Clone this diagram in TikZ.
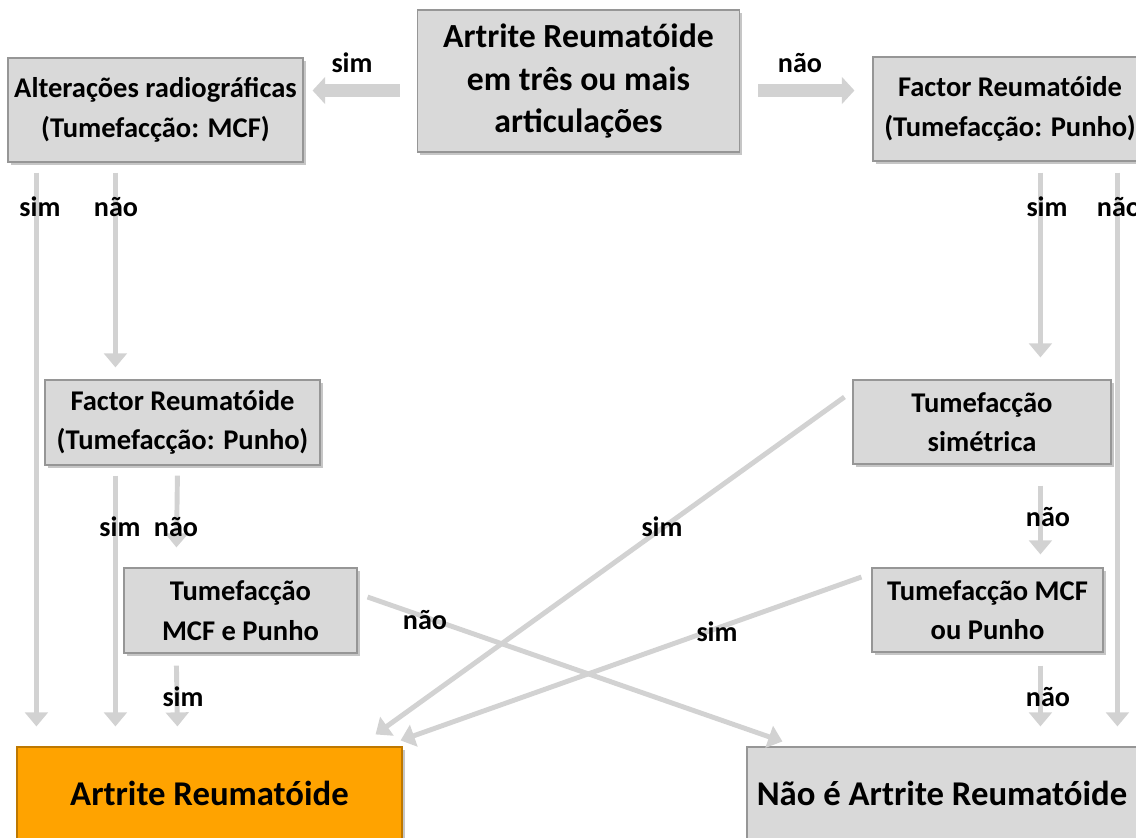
\documentclass[tikz,border=0pt]{standalone}
\usepackage{fontspec}
\setmainfont{Carlito}
\usetikzlibrary{arrows.meta,shadows}

\definecolor{boxgray}{RGB}{217,217,217}
\definecolor{boxedge}{RGB}{150,150,150}
\definecolor{arorange}{RGB}{255,163,0}
\definecolor{aredge}{RGB}{190,120,0}
\definecolor{flowgray}{RGB}{210,210,210}

\begin{document}
\begin{tikzpicture}[
    x=0.025cm, y=-0.025cm,
    box/.style={rectangle, draw=boxedge, line width=0.8pt, fill=boxgray, align=center,
        inner sep=0pt, font=\bfseries\fontsize{20.3}{28}\selectfont,
        drop shadow={shadow xshift=2pt, shadow yshift=-2pt, opacity=0.45}},
    bigbox/.style={box, font=\bfseries\fontsize{24}{30}\selectfont},
    endbox/.style={box, font=\bfseries\fontsize{24.7}{30}\selectfont},
    answer/.style={font=\bfseries\fontsize{20}{24}\selectfont, inner sep=0pt},
    flow/.style={draw=flowgray, line width=3.5pt, -{Triangle[width=16pt,length=10pt]}},
    wide/.style={draw=flowgray, line width=9.2pt, -{Triangle[width=19pt,length=9pt]}}
]
\useasboundingbox (0,0) rectangle (1136,837);

% Question boxes
\node[bigbox, minimum width=322*0.025cm, minimum height=142*0.025cm] (top) at (578.5,81)
    {Artrite Reumatóide\\em três ou mais\\articulações};
\node[box, minimum width=295*0.025cm, minimum height=104*0.025cm] (alter) at (155.5,110)
    {Alterações radiográficas\\(Tumefacção: MCF)};
\node[box, minimum width=274*0.025cm, minimum height=104*0.025cm] (frR) at (1010,109)
    {Factor Reumatóide\\(Tumefacção: Punho)};
\node[box, minimum width=275*0.025cm, minimum height=85*0.025cm] (frL) at (182.5,422.5)
    {Factor Reumatóide\\(Tumefacção: Punho)};
\node[box, minimum width=233*0.025cm, minimum height=85*0.025cm] (tmp) at (240.5,610.5)
    {Tumefacção\\MCF e Punho};
\node[box, minimum width=258*0.025cm, minimum height=84*0.025cm] (tsim) at (982,422)
    {Tumefacção\\simétrica};
\node[box, minimum width=231*0.025cm, minimum height=84*0.025cm] (tmou) at (987.5,610)
    {Tumefacção MCF\\ou Punho};

% Outcomes
\node[endbox, fill=arorange, draw=aredge, minimum width=385*0.025cm, minimum height=92*0.025cm] (ar) at (209.5,793)
    {Artrite Reumatóide};
\node[endbox, minimum width=390*0.025cm, minimum height=92*0.025cm] (nao) at (942,793)
    {Não é Artrite Reumatóide};

% First split
\draw[wide] ([shift={(-17,9.5)}]top.west) -- ([shift={(9,-19.5)}]alter.east);
\draw[wide] ([shift={(18,9.5)}]top.east) -- ([shift={(-18,-18.5)}]frR.west);

% Left branch
\draw[flow] ([shift={(29,10)}]alter.south west) -- ([shift={(20,-20)}]ar.north west);
\draw[flow] ([shift={(108,10)}]alter.south west) -- ([shift={(71,-12)}]frL.north west);
\draw[flow] ([shift={(71,10)}]frL.south west) -- ([shift={(99,-20)}]ar.north west);
\draw[flow] ([shift={(133,10)}]frL.south west) -- ([shift={(53,-20)}]tmp.north west);
\draw[flow] ([shift={(53,12)}]tmp.south west) -- ([shift={(161,-20)}]ar.north west);
\draw[flow] ([shift={(10,-13.5)}]tmp.east) -- ([shift={(36,-5)}]nao.north west);

% Right branch
\draw[flow] ([shift={(168,11)}]frR.south west) -- ([shift={(188,-22)}]tsim.north west);
\draw[flow] ([shift={(245,11)}]frR.south west) -- ([shift={(371,-20)}]nao.north west);
\draw[flow] ([shift={(-8,-25)}]tsim.west) -- ([shift={(-27,-12)}]ar.north east);
\draw[flow] ([shift={(188,21)}]tsim.south west) -- ([shift={(169,-13)}]tmou.north west);
\draw[flow] ([shift={(-10,-33)}]tmou.west) -- ([shift={(-2,-6)}]ar.north east);
\draw[flow] ([shift={(169,13)}]tmou.south west) -- ([shift={(294,-20)}]nao.north west);

% Answers
\node[answer] (l1) at (352,63) {sim};
\node[answer] (l2) at (800,63) {não};
\node[answer] (l3) at (40,207) {sim};
\node[answer] (l4) at (116,207) {não};
\node[answer] (l5) at (1047,207) {sim};
\node[answer] (l6) at (1119,207) {não};
\node[answer] (l7) at (120,527) {sim};
\node[answer] (l8) at (176,527) {não};
\node[answer] (l9) at (183,697) {sim};
\node[answer] (l10) at (425,620) {não};
\node[answer] (l11) at (662,527) {sim};
\node[answer] (l12) at (717,632) {sim};
\node[answer] (l13) at (1048,517) {não};
\node[answer] (l14) at (1048,697) {não};

\end{tikzpicture}
\end{document}
